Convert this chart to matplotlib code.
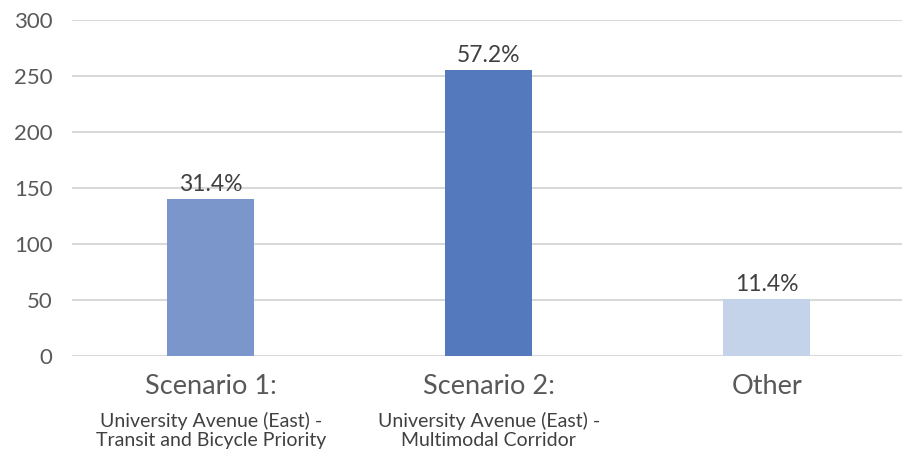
import matplotlib
matplotlib.use("Agg")
import matplotlib.pyplot as plt

plt.rcParams['font.family'] = ['Lato', 'DejaVu Sans']

categories = ["Scenario 1:", "Scenario 2:", "Other"]
subtitles = ["University Avenue (East) -\nTransit and Bicycle Priority",
             "University Avenue (East) -\nMultimodal Corridor",
             ""]
values = [140, 255, 51]
pct_labels = ["31.4%", "57.2%", "11.4%"]
colors = ["#7A96CB", "#5479BC", "#C5D3EA"]
yticks = [0, 50, 100, 150, 200, 250, 300]

fig = plt.figure(figsize=(9.02, 4.53), dpi=100)
ax = fig.add_axes([0.0798, 0.2141, 0.9202, 0.7417])

x = list(range(len(categories)))
ax.bar(x, values, width=0.313, color=colors, zorder=3)

for xi, v, lab in zip(x, values, pct_labels):
    ax.annotate(lab, (xi, v), xytext=(0, 3), textcoords="offset points",
                ha="center", va="bottom", fontsize=16.5, color="#404040")

ax.set_ylim(0, 300)
ax.set_xlim(-0.5, 2.486)
ax.set_yticks(yticks)
ax.set_yticklabels([str(t) for t in yticks], fontsize=16, color="#595959")
ax.tick_params(axis="y", length=0, pad=14)
ax.set_xticks([])
ax.grid(axis="y", color="#D9D9D9", linewidth=1.5, zorder=0)
for s in ax.spines.values():
    s.set_visible(False)

for xi, cat, sub in zip(x, categories, subtitles):
    ax.annotate(cat, (xi, 0), xycoords=("data", "axes fraction"),
                xytext=(0, -22), textcoords="offset points",
                ha="center", va="center", fontsize=19.5, color="#595959")
    if sub:
        ax.annotate(sub, (xi, 0), xycoords=("data", "axes fraction"),
                    xytext=(0, -40), textcoords="offset points",
                    ha="center", va="top", fontsize=14, color="#404040",
                    linespacing=1.15)

fig.savefig("out.png", dpi=100)
